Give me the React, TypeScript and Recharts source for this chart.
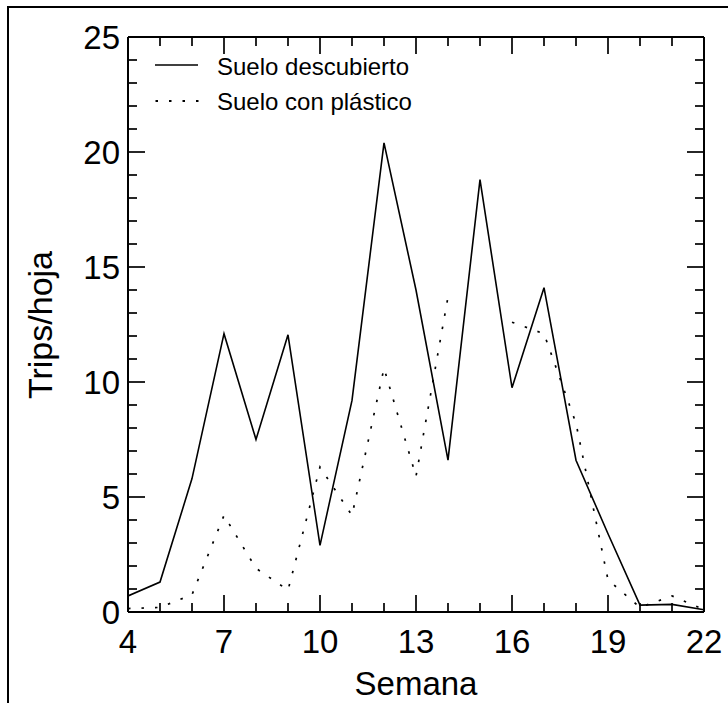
import React from 'react';
import { LineChart, Line, XAxis, YAxis } from 'recharts';

const weeks = [4, 5, 6, 7, 8, 9, 10, 11, 12, 13, 14, 15, 16, 17, 18, 19, 20, 21, 22];
const sueloDescubierto = [0.7, 1.3, 5.8, 12.1, 7.5, 12.05, 2.9, 9.2, 20.4, 14.0, 6.6, 18.8, 9.75, 14.1, 6.6, 3.4, 0.3, 0.33, 0.1];
const sueloPlastico: (number | null)[] = [0.15, 0.2, 0.75, 4.2, 1.9, 0.95, 6.3, 4.2, 10.6, 5.9, 13.7, null, 12.6, 12.1, 8.2, 1.4, 0.2, 0.7, 0.1];
const seriesNames = ['Suelo descubierto', 'Suelo con plástico'];
const xTicks = [4, 5, 6, 7, 8, 9, 10, 11, 12, 13, 14, 15, 16, 17, 18, 19, 20, 21, 22];
const yTicks = [0, 1, 2, 3, 4, 5, 6, 7, 8, 9, 10, 11, 12, 13, 14, 15, 16, 17, 18, 19, 20, 21, 22, 23, 24, 25];
const xLabel = 'Semana';
const yLabel = 'Trips/hoja';

const data = weeks.map((w, i) => ({ week: w, a: sueloDescubierto[i], b: sueloPlastico[i] }));

const FONT = '"Liberation Sans", Arial, sans-serif';
const MAJOR = 17;
const MINOR = 9;
const TW = 1.7;

const isMajorX = (v: number) => (v - 4) % 3 === 0;
const isMajorY = (v: number) => v % 5 === 0;

const BottomTick = (props: any) => {
  const { x, y, payload } = props;
  const major = isMajorX(payload.value);
  return (
    <g>
      <line x1={x} y1={y} x2={x} y2={y - (major ? MAJOR : MINOR)} stroke="#000" strokeWidth={TW} />
      {major && (
        <text x={x} y={y + 41} textAnchor="middle" fontSize={33} fontFamily={FONT} fill="#000">
          {payload.value}
        </text>
      )}
    </g>
  );
};

const TopTick = (props: any) => {
  const { x, y, payload } = props;
  const major = isMajorX(payload.value);
  return <line x1={x} y1={y} x2={x} y2={y + (major ? MAJOR : MINOR)} stroke="#000" strokeWidth={TW} />;
};

const LeftTick = (props: any) => {
  const { x, y, payload } = props;
  const major = isMajorY(payload.value);
  return (
    <g>
      <line x1={x} y1={y} x2={x + (major ? MAJOR : MINOR)} y2={y} stroke="#000" strokeWidth={TW} />
      {major && (
        <text x={x - 8} y={y} dy="0.36em" textAnchor="end" fontSize={33} fontFamily={FONT} fill="#000">
          {payload.value}
        </text>
      )}
    </g>
  );
};

const RightTick = (props: any) => {
  const { x, y, payload } = props;
  const major = isMajorY(payload.value);
  return <line x1={x} y1={y} x2={x - (major ? MAJOR : MINOR)} y2={y} stroke="#000" strokeWidth={TW} />;
};

const axisLine = { stroke: '#000', strokeWidth: 2 };

export default function App() {
  return (
    <div style={{ position: 'absolute', left: 0, top: 0, width: 728, height: 703, overflow: 'hidden', background: '#fff' }}>
      <div
        style={{
          position: 'absolute',
          left: 7,
          top: 6,
          width: 760,
          height: 760,
          borderLeft: '2px solid #000',
          borderTop: '2px solid #000',
        }}
      />
      <div style={{ position: 'absolute', left: 0, top: 0 }}>
        <LineChart width={728} height={703} data={data} margin={{ top: 0, right: 0, bottom: 0, left: 0 }}>
          <XAxis
            xAxisId="bottom"
            dataKey="week"
            type="number"
            domain={[4, 22]}
            ticks={xTicks}
            interval={0}
            orientation="bottom"
            height={91}
            tickSize={0}
            tickMargin={0}
            tickLine={false}
            axisLine={axisLine}
            tick={<BottomTick />}
            allowDataOverflow
          />
          <XAxis
            xAxisId="top"
            dataKey="week"
            type="number"
            domain={[4, 22]}
            ticks={xTicks}
            interval={0}
            orientation="top"
            height={37}
            tickSize={0}
            tickMargin={0}
            tickLine={false}
            axisLine={axisLine}
            tick={<TopTick />}
            allowDataOverflow
          />
          <YAxis
            yAxisId="left"
            type="number"
            domain={[0, 25]}
            ticks={yTicks}
            interval={0}
            orientation="left"
            width={128}
            tickSize={0}
            tickMargin={0}
            tickLine={false}
            axisLine={axisLine}
            tick={<LeftTick />}
            allowDataOverflow
          />
          <YAxis
            yAxisId="right"
            type="number"
            domain={[0, 25]}
            ticks={yTicks}
            interval={0}
            orientation="right"
            width={24}
            tickSize={0}
            tickMargin={0}
            tickLine={false}
            axisLine={axisLine}
            tick={<RightTick />}
            allowDataOverflow
          />
          <Line
            xAxisId="bottom"
            yAxisId="left"
            type="linear"
            dataKey="a"
            name={seriesNames[0]}
            stroke="#000"
            strokeWidth={1.6}
            dot={false}
            activeDot={false}
            isAnimationActive={false}
          />
          <Line
            xAxisId="bottom"
            yAxisId="left"
            type="linear"
            dataKey="b"
            name={seriesNames[1]}
            stroke="#000"
            strokeWidth={1.7}
            strokeDasharray="2.5 11"
            connectNulls={false}
            dot={false}
            activeDot={false}
            isAnimationActive={false}
          />
        </LineChart>
      </div>
      <svg width={728} height={703} style={{ position: 'absolute', left: 0, top: 0, pointerEvents: 'none' }}>
        <line x1={155} y1={65} x2={198} y2={65} stroke="#000" strokeWidth={1.6} />
        <text x={217} y={75} fontSize={24} fontFamily={FONT} fill="#000">{seriesNames[0]}</text>
        <line x1={155.5} y1={101} x2={200} y2={101} stroke="#000" strokeWidth={1.8} strokeDasharray="2.5 11" />
        <text x={217} y={110} fontSize={24} fontFamily={FONT} fill="#000">{seriesNames[1]}</text>
        <text x={416} y={695} textAnchor="middle" fontSize={33} fontFamily={FONT} fill="#000">{xLabel}</text>
        <text x={52} y={325} transform="rotate(-90 52 325)" textAnchor="middle" fontSize={34} fontFamily={FONT} fill="#000">{yLabel}</text>
      </svg>
    </div>
  );
}
